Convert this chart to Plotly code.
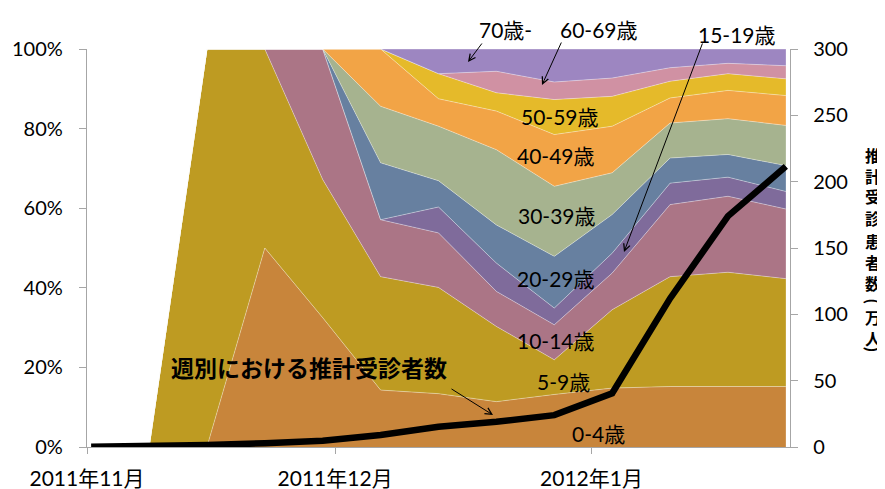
import pandas as pd
import plotly.graph_objects as go

# ---------------- data ----------------
weeks = ["2011-11-01", "2011-11-08", "2011-11-15", "2011-11-22", "2011-11-29",
         "2011-12-06", "2011-12-13", "2011-12-20", "2011-12-27",
         "2012-01-03", "2012-01-10", "2012-01-17", "2012-01-24"]

age_groups = ["0-4歳", "5-9歳", "10-14歳", "15-19歳", "20-29歳",
              "30-39歳", "40-49歳", "50-59歳", "60-69歳", "70歳-"]

# share of each age group per week (%)
pct_0_4   = [0, 0, 0,   50, 32.5, 14.3, 13.4, 11.4, 13.2, 14.8, 15.2, 15.2, 15.2]
pct_5_9   = [0, 0, 100, 50, 34.7, 28.5, 26.7, 18.9,  8.7, 19.7, 27.6, 28.7, 27.1]
pct_10_14 = [0, 0, 0,    0, 32.8, 14.3, 13.7,  8.8,  8.8,  9.2, 18.1, 19.1, 17.5]
pct_15_19 = [0, 0, 0,    0,  0,    0,    6.5,  7.1,  4.2,  5.0,  5.4,  4.8,  4.4]
pct_20_29 = [0, 0, 0,    0,  0,   14.3,  6.6,  9.6, 13.0,  9.7,  6.3,  5.7,  6.5]
pct_30_39 = [0, 0, 0,    0,  0,   14.2, 13.7, 18.9, 17.6, 10.5,  8.8,  9.0, 10.1]
pct_40_49 = [0, 0, 0,    0,  0,   14.4,  6.9,  9.7, 13.0, 11.7,  6.3,  7.1,  7.5]
pct_50_59 = [0, 0, 0,    0,  0,    0,    6.3,  4.6,  8.8,  7.5,  4.2,  4.2,  4.2]
pct_60_69 = [0, 0, 0,    0,  0,    0,    0,    5.4,  4.4,  4.6,  3.4,  2.6,  3.3]
pct_70    = [0, 0, 0,    0,  0,    0,    6.2,  5.6,  8.3,  7.3,  4.7,  3.6,  4.2]

# weekly estimated patients (10 thousand people)
patients = [0.2, 0.3, 1.5, 2.8, 4.7, 9.0, 15.3, 19.0, 24.0, 40.5, 112, 174, 211.5]

left_ticks = [0, 20, 40, 60, 80, 100]
left_labels = ["0%", "20%", "40%", "60%", "80%", "100%"]
right_ticks = [0, 50, 100, 150, 200, 250, 300]
month_ticks = ["2011-11-01", "2011-12-01", "2012-01-01"]
month_labels = ["2011年11月", "2011年12月", "2012年1月"]
line_label = "週別における推計受診者数"
right_title = "推計受診患者数（万人）"

# ---------------- styles ----------------
colors = ["#C8853B", "#BE9B22", "#AB7586", "#7F6B9B", "#6780A0",
          "#A6B38F", "#F2A446", "#E5BA2A", "#D091A3", "#9D86C1"]
FONT = "Lato, 'Noto Sans CJK JP', sans-serif"

series = [pct_0_4, pct_5_9, pct_10_14, pct_15_19, pct_20_29,
          pct_30_39, pct_40_49, pct_50_59, pct_60_69, pct_70]

# Excel date axis: points drawn at the middle of each day
x = [pd.Timestamp(d) + pd.Timedelta(hours=12) for d in weeks]

fig = go.Figure()
for name, vals, col in zip(age_groups, series, colors):
    fig.add_trace(go.Scatter(
        x=x, y=vals, name=name, mode="lines", stackgroup="one",
        fillcolor=col, line=dict(width=0.8, color="rgba(255,255,255,0.45)"),
    ))

fig.add_trace(go.Scatter(
    x=x, y=patients, name=line_label, mode="lines", yaxis="y2",
    line=dict(color="black", width=6.5),
))

# target plot-area box in page pixels; the page body has an 8px margin
OFF = 8
L, R, T, B = 87, 790, 49, 447
W, H = 885 - OFF, 489 - OFF


def px(v):
    return (v - L) / (R - L)


def py(v):
    return (B - v) / (B - T)


axis_col = "#A6A6A6"
fig.update_layout(
    width=W, height=H,
    margin=dict(l=L - OFF, r=W - (R - OFF), t=T - OFF, b=H - (B - OFF),
                autoexpand=False),
    paper_bgcolor="white", plot_bgcolor="white",
    showlegend=False,
    font=dict(family=FONT, size=20, color="black"),
    xaxis=dict(
        type="date", range=["2011-11-01", "2012-01-25"],
        tickvals=month_ticks, ticktext=month_labels,
        showgrid=False, zeroline=False, automargin=False,
        showline=True, linecolor=axis_col, linewidth=1.3,
        ticks="outside", ticklen=6, tickcolor=axis_col, tickwidth=1.3,
        tickfont=dict(size=21), ticklabelstandoff=7,
    ),
    yaxis=dict(
        range=[0, 100], tickvals=left_ticks, ticktext=left_labels,
        showgrid=False, zeroline=False, automargin=False,
        showline=True, linecolor=axis_col, linewidth=1.3,
        ticks="outside", ticklen=7, tickcolor=axis_col, tickwidth=1.3,
        tickfont=dict(size=20), ticklabelstandoff=12,
    ),
    yaxis2=dict(
        range=[0, 300], tickvals=right_ticks, overlaying="y", side="right",
        showgrid=False, zeroline=False, automargin=False,
        showline=True, linecolor=axis_col, linewidth=1.3,
        ticks="outside", ticklen=7, tickcolor=axis_col, tickwidth=1.3,
        tickfont=dict(size=20), ticklabelstandoff=11,
    ),
)

annotations = []

# age group labels
labels = [
    ("70歳-", 505, 29), ("60-69歳", 599, 29), ("15-19歳", 737, 35),
    ("50-59歳", 560, 117), ("40-49歳", 556, 155), ("30-39歳", 557, 215),
    ("20-29歳", 556, 278), ("10-14歳", 556, 340), ("5-9歳", 563, 381),
    ("0-4歳", 598, 433),
]
for txt, cx, cy in labels:
    annotations.append(dict(
        text=txt, x=px(cx), y=py(cy), xref="paper", yref="paper",
        xanchor="center", yanchor="middle", showarrow=False,
        font=dict(size=21, family=FONT, color="black"),
    ))

annotations.append(dict(
    text=f"<b>{line_label}</b>", x=px(309), y=py(368), xref="paper", yref="paper",
    xanchor="center", yanchor="middle", showarrow=False,
    font=dict(size=23, family=FONT, color="black"),
))

# arrows (head x, head y, tail x, tail y) in pixels
arrows = [(468, 62, 483, 42), (542, 85, 562, 41), (624, 252, 703, 42),
          (493, 415, 450, 388)]
for hx, hy, tx, ty in arrows:
    annotations.append(dict(
        text="", x=px(hx), y=py(hy), xref="paper", yref="paper",
        ax=tx - hx, ay=ty - hy, axref="pixel", ayref="pixel",
        showarrow=True, arrowhead=5, arrowsize=1.3, arrowwidth=1,
        arrowcolor="black", standoff=0, startstandoff=0,
        font=dict(size=1),
    ))

# vertical right-axis title (upright characters stacked top to bottom,
# parentheses turned sideways as in vertical Japanese writing)
title_chars = ["推", "計", "受", "診", "患", "者", "数", "(", "万", "人", ")"]
title_y = [155, 176, 197, 219, 241, 262, 283, 301, 317, 338, 349]
for ch, cy in zip(title_chars, title_y):
    is_paren = ch in "()"
    annotations.append(dict(
        text=f"<b>{ch}</b>", x=px(873), y=py(cy), xref="paper", yref="paper",
        xanchor="center", yanchor="middle", showarrow=False,
        textangle=90 if is_paren else 0,
        font=dict(size=17 if is_paren else 16, family=FONT, color="black"),
    ))

fig.update_layout(annotations=annotations)
fig.write_html("out.html")
